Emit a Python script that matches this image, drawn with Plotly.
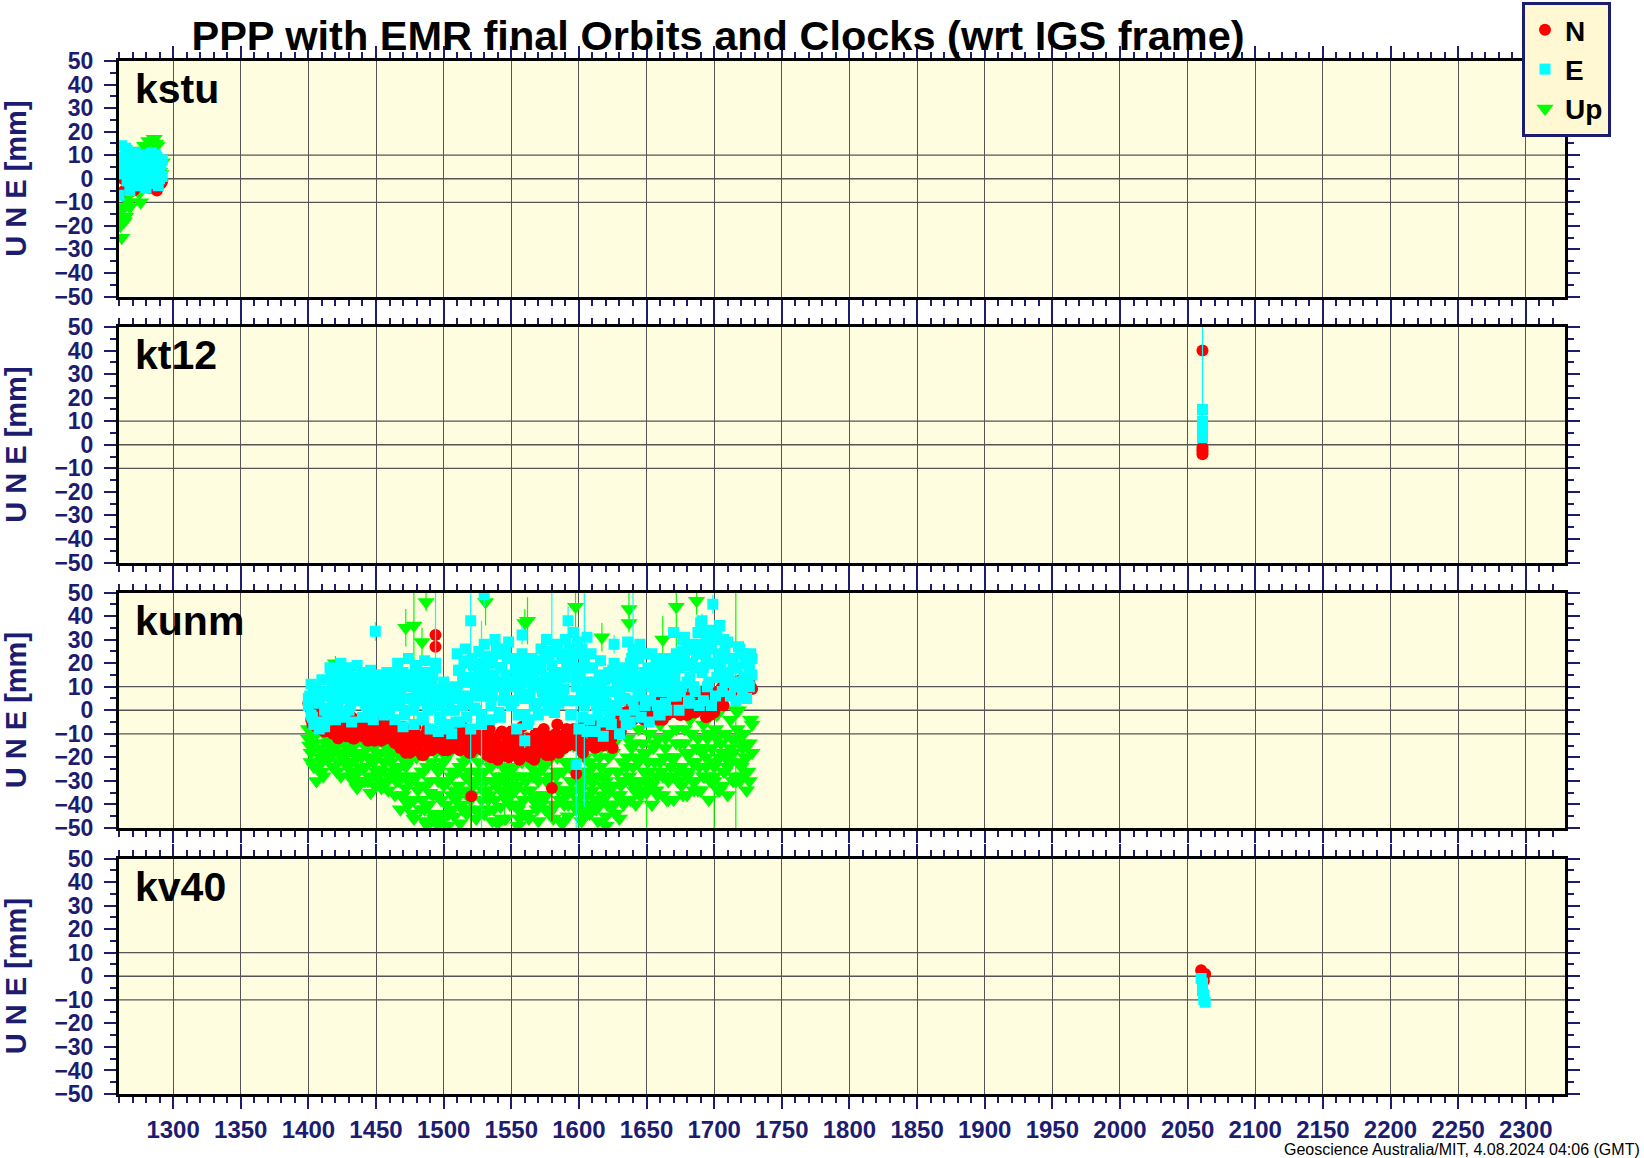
import plotly.graph_objects as go

# ---------------- data (mm, day numbers) ----------------
STATIONS = ["kstu", "kt12", "kunm", "kv40"]

KSTU_DAY = [1260, 1262, 1264, 1266, 1268, 1270, 1272, 1274, 1276, 1278, 1280, 1282, 1284, 1286, 1288, 1290, 1292,
            1261, 1263, 1265, 1267, 1269, 1271, 1273, 1275, 1277, 1279, 1281, 1283, 1285, 1287, 1289, 1291]
KSTU_N = [8, 7, -5, 2, -4, 0, 3, -2, 1, 4, 0, -3, 2, -4, -5, 0, -1,
          6, 0, 3, -3, 1, -5, 2, -1, 0, -2, 3, -4, 1, -3, 0, -2]
KSTU_E = [-7, 14, 3, 12, -5, 8, 11, -3, 6, 10, -4, 4, 11, -2, 9, 5, 1,
          5, 9, 13, 0, 6, -2, 4, 9, 2, 7, -1, 8, 3, 10, -3, 6]
KSTU_U = [-15, -25, -18, -8, -12, 9, 11, 10, -10, 8, 12, 16, 10, 17, 14, 3, 7,
          -20, -12, -16, -10, 4, 12, 6, -6, 10, 14, 7, 12, 9, 15, 5, 2]
# second E solution on the same days
KSTU_DAY_B = [1260, 1262, 1264, 1266, 1268, 1270, 1272, 1274, 1276, 1278, 1280, 1282, 1284, 1286, 1288, 1290, 1292]
KSTU_E_B = [2, 6, 8, -1, 4, 2, 5, 8, 0, 3, 6, 10, 0, 6, 2, 0, 8]

KT12_DAY = [2061, 2061, 2061, 2061, 2061]
KT12_N = [40, -2, -4, -1, -3]
KT12_E = [15, 10, 7, 3, 5]
KT12_E_ERR_UP = [40, 2, 2, 2, 2]
KT12_E_ERR_DN = [3, 2, 2, 2, 2]

KV40_DAY = [2060, 2061, 2061, 2062, 2062, 2063]
KV40_N = [2.5, 0, -1, 0.5, -2, 1]
KV40_E = [-1, -3, -6, -8, -10, -11]

KUNM_DAY = [
    1400, 1402, 1404, 1406, 1408, 1410, 1412, 1414,
    1416, 1418, 1420, 1422, 1424, 1426, 1428, 1430, 1432, 1434, 1436, 1438,
    1440, 1442, 1444, 1446, 1448, 1450, 1452, 1454, 1456, 1458, 1460, 1462, 1464,
    1466, 1468, 1470, 1472, 1474, 1476, 1478, 1480, 1482, 1484, 1486, 1488, 1490, 1492, 1494,
    1496, 1498, 1500, 1502, 1504, 1506, 1508,
    1510, 1512, 1514, 1516, 1518, 1520, 1522, 1524, 1526, 1528,
    1530, 1532, 1534, 1536, 1538, 1540, 1542, 1544, 1546, 1548,
    1550, 1552, 1554, 1556, 1558, 1560, 1562, 1564, 1566, 1568,
    1570, 1572, 1574, 1576, 1578, 1580, 1582, 1584, 1586, 1588, 1590, 1592, 1594,
    1596, 1598, 1600, 1602, 1604, 1606, 1608,
    1610, 1612, 1614, 1616, 1618, 1620, 1622, 1624, 1626, 1628, 1630, 1632, 1634,
    1636, 1638, 1640, 1642, 1644, 1646, 1648,
    1650, 1652, 1654, 1656, 1658, 1660, 1662, 1664, 1666, 1668,
    1670, 1672, 1674, 1676, 1678, 1680, 1682, 1684, 1686, 1688,
    1690, 1692, 1694, 1696, 1698, 1700, 1702, 1704, 1706, 1708,
    1710, 1712, 1714, 1716, 1718, 1720, 1722, 1724, 1726, 1728,
]
KUNM_E = [
    2, 11, -6, 8, -8, 13, 0, -4,
    18, 3, -4, 12, 20, -2, 8, 16, -5, 10, 19, 4,
    -3, 14, 6, 17, -4, 9, 15, 1, -2, 16, 7, 12, -4,
    20, 2, -7, 14, 22, 5, -6, 18, 10, -3, 21, 8, -8, 15, 3,
    -9, 8, 12, -6, 4, -10, 10,
    24, -5, 14, 26, 3, -8, 19, 9, 25, -2,
    28, 6, -4, 20, 30, 12, -3, 24, 15, 29,
    2, 22, -8, 14, 24, 5, -6, 18, 10, 21,
    -2, 26, 12, 30, 4, 19, -1, 28, 14, 7, 30, 22, -2,
    33, 10, -8, 26, 2, 31, -4,
    18, -9, 8, 21, -11, 3, 16, -6, 20, 10, -10, 14, 5,
    29, -5, 18, 26, 6, -3, 24,
    12, -5, 24, 8, 18, -2, 22, 3, 15, 20,
    33, 6, 0, 25, 31, 12, 3, 28, 18, 33,
    37, 4, 22, 34, 2, 30, 14, 36, 8, 26,
    29, 6, 20, 4, 27, 12, 24, 5, 18, 15,
]
KUNM_N = [
    3, -4, 0, -7, -2, -6, -9, -5,
    -3, -10, -6, -12, -4, -9, -11, -7, -3, -12, -8, -5,
    -11, -6, -13, -4, -9, -12, -7, -13, -5, -10, -12, -8, -14,
    -10, -16, -7, -18, -12, -15, -9, -17, -11, -19, -13, -8, -16, -12, -10,
    -15, -9, -17, -12, -14, -8, -16,
    -11, -17, -7, -15, -13, -18, -9, -16, -12, -6,
    -14, -19, -8, -17, -12, -21, -10, -18, -15, -20,
    -9, -19, -14, -21, -7, -17, -12, -20, -16, -10,
    -18, -13, -8, -19, -15, -11, -17, -6, -14, -16, -10, -15, -12,
    -8, -15, -11, -16, -6, -14, -12,
    -10, -16, -5, -13, -15, -9, -14, -12, -3, -8, -2, -6, -1,
    -5, 1, -4, 3, -2, 0, -4,
    2, -3, 4, -2, 0, 3, -4, 1, 5, -1,
    2, -1, 5, 0, 3, -2, 7, 1, -1, 4,
    8, 2, -3, 9, 5, -1, 7, 3, 10, 6,
    9, 12, 6, 11, 8, 13, 7, 10, 12, 9,
]
KUNM_U = [
    -8, -22, -14, -30, -5, -26, -18, -12,
    -20, -10, -16, -22, -8, -14, -19, -12, -28, -18, -33, -24,
    -12, -30, -20, -35, -16, -26, -10, -33, -22, -14, -28, -18, -36,
    -25, -42, -15, -33, -40, -20, -46, -28, -12, -38, -47, -24, -35, -44, -18,
    -30, -47, -22, -40, -14, -36, -45,
    -26, -48, -18, -34, -42, -15, -30, -46, -22, -38,
    -44, -20, -36, -47, -16, -28, -41, -24, -46, -32,
    -18, -40, -28, -46, -22, -34, -44, -15, -38, -26,
    -47, -20, -36, -30, -44, -16, -40, -26, -47, -34, -22, -45, -30,
    -15, -42, -28, -47, -20, -36, -44,
    -24, -38, -47, -16, -32, -45, -26, -40, -14, -36, -46, -22, -30,
    -12, -38, -24, -40, -8, -30, -18,
    -34, -10, -40, -22, -28, -6, -36, -16, -30, -20,
    -38, -8, -26, -32, -14, -36, -4, -22, -30, -12,
    -34, -6, -24, -38, -16, -28, -2, -20, -32, -10,
    -36, -4, -18, -30, 0, -24, -10, -34, -14, -6,
]
# second E / Up solution on the even days
KUNM_E_B = [
    5, -2, 9, -5, 3, 6, -7, 8,
    6, 12, 9, 1, 14, 5, 17, 0, 11, 4, 13, 8,
    10, 3, 0, 8, 11, 4, 2, 13, 6, 10, 0, 5, 14,
    12, 6, 16, 0, 10, 15, 2, 8, 16, 4, 13, 0, 10, 5, 18,
    2, -4, 6, 1, -6, 8, 0,
    8, 17, 2, 12, 20, 6, 14, 0, 16, 10,
    16, 12, 22, 6, 10, 24, 18, 4, 26, 12,
    10, 4, 16, 8, 12, -2, 18, 6, 14, 2,
    10, 18, 4, 14, 22, 8, 16, 12, 6, 22, 14, 4, 18,
    24, 14, 18, 8, 22, 12, 6,
    4, 12, -2, 10, 6, 14, 0, 8, 14, 2, 6, 12, -2,
    10, 20, 4, 14, 22, 8, 16,
    4, 16, 10, 14, 2, 20, 12, 8, 18, 10,
    12, 24, 18, 10, 22, 26, 14, 20, 8, 28,
    24, 18, 30, 12, 26, 20, 32, 16, 22, 12,
    16, 22, 12, 18, 10, 24, 14, 20, 10, 22,
]
KUNM_U_B = [
    -12, -18, -24, -10, -16, -22, -8, -20,
    -14, -24, -12, -18, -28, -10, -22, -16, -26, -14, -20, -30,
    -18, -24, -30, -14, -22, -28, -18, -26, -32, -16, -20, -28, -24,
    -18, -28, -36, -24, -30, -14, -38, -20, -32, -26, -42, -18, -30, -36, -24,
    -26, -38, -32, -20, -44, -28, -34,
    -36, -24, -42, -28, -20, -38, -32, -26, -44, -30,
    -26, -34, -42, -30, -38, -22, -34, -28, -38, -24,
    -36, -24, -32, -40, -28, -44, -22, -34, -28, -38,
    -30, -40, -24, -36, -28, -42, -32, -20, -38, -26, -34, -40, -22,
    -34, -26, -40, -32, -28, -42, -22,
    -34, -28, -40, -24, -38, -30, -20, -32, -40, -26, -36, -30, -38,
    -20, -30, -14, -32, -22, -36, -26,
    -18, -26, -32, -14, -36, -22, -28, -12, -38, -24,
    -20, -14, -30, -24, -8, -28, -18, -30, -22, -34,
    -16, -28, -20, -10, -30, -24, -12, -34, -18, -26,
    -24, -16, -30, -12, -22, -28, -14, -20, -30, -18,
]

# the odd days of kunm
KUNM_DAY_ODD = [
    1401, 1403, 1405, 1407, 1409, 1411, 1413,
    1415, 1417, 1419, 1421, 1423, 1425, 1427, 1429, 1431, 1433, 1435, 1437, 1439,
    1441, 1443, 1445, 1447, 1449, 1451, 1453, 1455, 1457, 1459, 1461, 1463, 1465,
    1467, 1469, 1471, 1473, 1475, 1477, 1479, 1481, 1483, 1485, 1487, 1489, 1491, 1493,
    1495, 1497, 1499, 1501, 1503, 1505, 1507, 1509,
    1511, 1513, 1515, 1517, 1519, 1521, 1523, 1525, 1527, 1529,
    1531, 1533, 1535, 1537, 1539, 1541, 1543, 1545, 1547, 1549,
    1551, 1553, 1555, 1557, 1559, 1561, 1563, 1565, 1567, 1569,
    1571, 1573, 1575, 1577, 1579, 1581, 1583, 1585, 1587, 1589, 1591, 1593,
    1595, 1597, 1599, 1601, 1603, 1605, 1607, 1609,
    1611, 1613, 1615, 1617, 1619, 1621, 1623, 1625, 1627, 1629, 1631, 1633, 1635,
    1637, 1639, 1641, 1643, 1645, 1647, 1649,
    1651, 1653, 1655, 1657, 1659, 1661, 1663, 1665, 1667, 1669,
    1671, 1673, 1675, 1677, 1679, 1681, 1683, 1685, 1687, 1689,
    1691, 1693, 1695, 1697, 1699, 1701, 1703, 1705, 1707, 1709,
    1711, 1713, 1715, 1717, 1719, 1721, 1723, 1725, 1727,
]
KUNM_E_ODD = [
    6, -3, 10, 4, -7, 7, 1,
    8, 14, 0, 17, 6, 12, -3, 18, 2, 14, 7, 11, 16,
    9, 2, 12, 5, 15, 0, 11, 7, 13, 4, 16, 2, 10,
    8, 16, -2, 10, 12, 0, 19, 4, 13, -4, 16, 1, 11, 7,
    9, -3, 2, 7, -8, 0, 5, -5,
    17, 6, 21, -3, 12, 22, 1, 14, 6, 20,
    10, 23, 2, 15, 26, -1, 18, 8, 22, 4,
    12, 18, -2, 20, 7, 15, -4, 22, 3, 12,
    17, 8, 22, 0, 25, 10, 16, 3, 24, 9, 18, 26,
    20, 4, 29, 14, -3, 18, 8, 24,
    11, 2, 15, -5, 13, 8, -2, 17, 0, 12, 4, 18, -6,
    14, 22, 0, 10, 28, 12, 2,
    18, 4, 14, 21, -1, 10, 16, 0, 22, 6,
    14, 22, 8, 30, 19, 4, 26, 10, 24, 2,
    16, 28, 10, 20, 32, 6, 24, 18, 30, 12,
    14, 22, 10, 18, 26, 8, 20, 14, 24,
]
KUNM_N_ODD = [
    1, -6, 2, -3, -8, -1, -4,
    -7, -2, -9, -5, -11, -8, -3, -10, -6, -12, -4, -9, -7,
    -8, -12, -5, -10, -13, -7, -11, -4, -12, -9, -6, -13, -10,
    -13, -8, -15, -11, -18, -14, -7, -16, -12, -19, -10, -15, -17, -13,
    -12, -16, -10, -14, -17, -11, -13, -15,
    -14, -9, -16, -12, -18, -10, -15, -13, -8, -17,
    -16, -11, -20, -13, -18, -15, -9, -19, -12, -17,
    -13, -17, -10, -20, -15, -12, -18, -14, -21, -11,
    -15, -9, -17, -12, -19, -14, -10, -18, -13, -16, -8, -14,
    -12, -10, -14, -9, -16, -11, -8, -15,
    -13, -8, -15, -11, -6, -14, -10, -16, -7, -4, -9, -3, -5,
    -2, -4, 0, -3, 2, -1, -3,
    -1, 3, -2, 1, -4, 4, 0, -2, 2, 3,
    0, 4, -2, 6, 1, 3, -1, 5, 2, 6,
    4, 0, 6, 2, 8, 1, 5, 9, 2, 7,
    10, 8, 12, 7, 9, 11, 8, 13, 10,
]
KUNM_U_ODD = [
    -15, -10, -24, -6, -20, -28, -14,
    -14, -18, -12, -26, -10, -20, -15, -24, -22, -30, -14, -26, -20,
    -24, -16, -28, -14, -32, -20, -25, -30, -12, -34, -22, -26, -30,
    -30, -20, -38, -22, -28, -44, -16, -34, -42, -26, -32, -40, -22, -46,
    -36, -24, -44, -18, -30, -42, -26, -38,
    -32, -40, -22, -44, -26, -36, -18, -42, -28, -34,
    -30, -38, -24, -42, -32, -20, -46, -34, -26, -40,
    -28, -34, -42, -20, -38, -30, -46, -24, -36, -42,
    -26, -38, -42, -22, -32, -46, -28, -34, -18, -40, -36, -24,
    -30, -22, -38, -34, -44, -26, -40, -30,
    -30, -42, -20, -36, -28, -40, -34, -18, -44, -26, -32, -40, -24,
    -28, -16, -34, -20, -36, -14, -30,
    -22, -30, -16, -34, -12, -26, -20, -38, -10, -28,
    -20, -30, -14, -36, -18, -26, -10, -34, -16, -24,
    -18, -28, -12, -30, -22, -8, -34, -14, -26, -20,
    -22, -12, -28, -8, -30, -16, -20, -26, -4,
]

# isolated kunm points with their (visible) error bars
KUNM_E_OUT_DAY = [1449.5, 1494, 1520, 1530, 1528, 1558, 1560, 1580, 1592, 1598, 1604, 1606, 1626, 1640, 1691, 1699]
KUNM_E_OUT = [33.5, 20, 38, 49, -6, 32, -13, 25, 38, -23, 5, -9, 28, 25, 38, 45]
KUNM_E_OUT_ERR = [4, 30, 60, 5, 44, 4, 3, 25, 6, 30, 46, 3, 4, 25, 3, 4]

KUNM_N_OUT_DAY = [1494, 1494, 1520.5, 1580, 1598, 1603, 1677, 1697]
KUNM_N_OUT = [32, 27, -36.5, -33, -27, -18, 1, -2]
KUNM_N_OUT_ERR = [3, 3, 14, 14, 4, 4, 3, 3]

KUNM_U_OUT_DAY = [1420, 1472, 1478, 1484, 1487, 1531, 1560, 1562, 1597.5, 1617, 1637, 1637, 1662, 1672, 1687,
                  1488, 1496, 1503, 1540, 1555, 1588, 1620, 1716, 1600, 1520, 1545, 1650, 1700]
KUNM_U_OUT = [20, 35, 36, 29, 46, 46, 37, 38, 44, 31, 43, 37, 30, 44, 46.5,
              -49, -49, -49, -48, -49, -48, -49, 0, -30, -30, -30, -35, -30]
KUNM_U_OUT_ERR = [3, 8, 40, 6, 4, 10, 6, 10, 10, 6, 8, 4, 10, 25, 6,
                  3, 3, 3, 3, 3, 3, 3, 55, 20, 20, 19, 15, 20]

X_RANGE = [1260, 2329]
Y_RANGE = [-50, 50]

# ---------------- styling ----------------
W, H = 1644, 1158
PL, PR, PT, PB = 119, 1565, 61, 1094
PANEL_TOPS = [61, 327, 592.5, 858.5]
PANEL_H = 235.5
NAVY = "#1c1c70"
RED, CYAN, GREEN = "#ff0000", "#00ffff", "#00ff00"
FONT = "Liberation Sans"

N_STYLE = dict(name="N", mode="markers", marker=dict(color=RED, size=12, symbol="circle", line=dict(width=0)))
E_STYLE = dict(name="E", mode="markers", marker=dict(color=CYAN, size=11, symbol="square", line=dict(width=0)))
U_STYLE = dict(name="Up", mode="markers", marker=dict(color=GREEN, size=15, symbol="triangle-down", line=dict(width=0)))

fig = go.Figure()
plot_h = PB - PT


def ax(i, kind):
    return kind if i == 1 else f"{kind}{i}"


def add(i, style, xs, ys, rank, legend, err=None, errminus=None, color=None):
    tr = go.Scatter(x=xs, y=ys, xaxis=ax(i, "x"), yaxis=ax(i, "y"),
                    legendgroup=style["name"], showlegend=legend, legendrank=rank, **style)
    if err is not None:
        ed = dict(type="data", array=err, visible=True, color=color, thickness=1.2, width=0)
        if errminus is not None:
            ed["symmetric"] = False
            ed["arrayminus"] = errminus
        tr.update(error_y=ed)
    fig.add_trace(tr)


# panel 1 kstu
add(1, U_STYLE, KSTU_DAY, KSTU_U, 3, True)
add(1, N_STYLE, KSTU_DAY, KSTU_N, 1, True)
add(1, E_STYLE, KSTU_DAY + KSTU_DAY_B, KSTU_E + KSTU_E_B, 2, True)
# panel 2 kt12
add(2, N_STYLE, KT12_DAY, KT12_N, 1, False)
add(2, E_STYLE, KT12_DAY, KT12_E, 2, False, KT12_E_ERR_UP, KT12_E_ERR_DN, CYAN)
# panel 3 kunm
days = KUNM_DAY + KUNM_DAY_ODD
add(3, U_STYLE, days + KUNM_DAY, KUNM_U + KUNM_U_ODD + KUNM_U_B, 3, False)
add(3, U_STYLE, KUNM_U_OUT_DAY, KUNM_U_OUT, 3, False, KUNM_U_OUT_ERR, None, GREEN)
add(3, N_STYLE, days, KUNM_N + KUNM_N_ODD, 1, False)
add(3, N_STYLE, KUNM_N_OUT_DAY, KUNM_N_OUT, 1, False, KUNM_N_OUT_ERR, None, RED)
add(3, E_STYLE, days + KUNM_DAY, KUNM_E + KUNM_E_ODD + KUNM_E_B, 2, False)
add(3, E_STYLE, KUNM_E_OUT_DAY, KUNM_E_OUT, 2, False, KUNM_E_OUT_ERR, None, CYAN)
# panel 4 kv40
add(4, N_STYLE, KV40_DAY, KV40_N, 1, False)
add(4, E_STYLE, KV40_DAY, KV40_E, 2, False)

layout = dict(
    width=W, height=H,
    margin=dict(l=PL, r=W - PR, t=PT, b=H - PB, pad=0, autoexpand=False),
    paper_bgcolor="white", plot_bgcolor="#fffde0",
    font=dict(family=FONT, color=NAVY),
    showlegend=True,
    legend=dict(xref="container", yref="container", x=1522 / W, xanchor="left", y=1 - 2 / H, yanchor="top",
                bgcolor="#fff8d2", bordercolor=NAVY, borderwidth=3,
                font=dict(family=FONT, size=28, color="black", weight="bold"),
                itemsizing="trace", traceorder="normal", tracegroupgap=0,
                itemwidth=30),
    title=dict(text="PPP with EMR final Orbits and Clocks (wrt IGS frame)",
               x=718 / W, xanchor="center", y=1 - 35 / H, yanchor="middle",
               font=dict(family=FONT, size=41.5, color="black", weight="bold")),
)

annotations = []
shapes = []
for k, name in enumerate(STATIONS):
    i = k + 1
    top = PANEL_TOPS[k]
    bot = top + PANEL_H
    dom = [(PB - bot) / plot_h, (PB - top) / plot_h]
    xa = dict(range=X_RANGE, domain=[0, 1], anchor=ax(i, "y"), automargin=False,
              showline=True, linecolor="black", linewidth=3, mirror="allticks",
              ticks="outside", ticklen=12, tickwidth=2, tickcolor=NAVY,
              tick0=1300, dtick=50,
              showgrid=True, gridcolor="#555555", gridwidth=1.3,
              zeroline=False, showticklabels=(i == 4),
              tickfont=dict(family=FONT, size=24, color=NAVY, weight="bold"),
              ticklabelstandoff=0,
              minor=dict(dtick=10, tick0=1300, ticks="outside", ticklen=6, tickwidth=2,
                         tickcolor=NAVY, showgrid=False))
    if i != 1:
        xa["matches"] = "x"
    ya = dict(range=Y_RANGE, domain=dom, anchor=ax(i, "x"), automargin=False,
              showline=True, linecolor="black", linewidth=3, mirror="allticks",
              ticks="outside", ticklen=12, tickwidth=2, tickcolor=NAVY,
              tick0=0, dtick=10, showgrid=False, zeroline=False,
              tickfont=dict(family=FONT, size=23, color=NAVY, weight="bold"),
              ticklabelstandoff=6,
              minor=dict(dtick=5, ticks="outside", ticklen=6, tickwidth=2,
                         tickcolor=NAVY, showgrid=False))
    layout["xaxis" if i == 1 else f"xaxis{i}"] = xa
    layout["yaxis" if i == 1 else f"yaxis{i}"] = ya

    xd = "x domain" if i == 1 else f"x{i} domain"
    yd = "y domain" if i == 1 else f"y{i} domain"
    yr = ax(i, "y")
    for gy in (-10, 0, 10):
        shapes.append(dict(type="line", xref=xd, yref=yr, x0=0, x1=1, y0=gy, y1=gy,
                           line=dict(color="#555555", width=1.3), layer="below"))
    annotations.append(dict(text=name, xref=xd, yref=yd, x=(133 - PL) / (PR - PL), y=1 - 28 / PANEL_H,
                            xanchor="left", yanchor="middle", showarrow=False,
                            font=dict(family=FONT, size=41, color="black", weight="bold")))
    annotations.append(dict(text="U N E [mm]", xref="paper", yref=yd, x=(16 - PL) / (PR - PL), y=0.5,
                            xanchor="center", yanchor="middle", textangle=-90, showarrow=False,
                            font=dict(family=FONT, size=29, color=NAVY, weight="bold")))

annotations.append(dict(text="Geoscience Australia/MIT, 4.08.2024 04:06 (GMT)", xref="paper", yref="paper",
                        x=(1642 - PL) / (PR - PL), y=(PB - 1149) / plot_h, xanchor="right", yanchor="middle",
                        showarrow=False, font=dict(family=FONT, size=16, color="black")))

layout["annotations"] = annotations
layout["shapes"] = shapes
fig.update_layout(**layout)

fig.write_html("out.html")
